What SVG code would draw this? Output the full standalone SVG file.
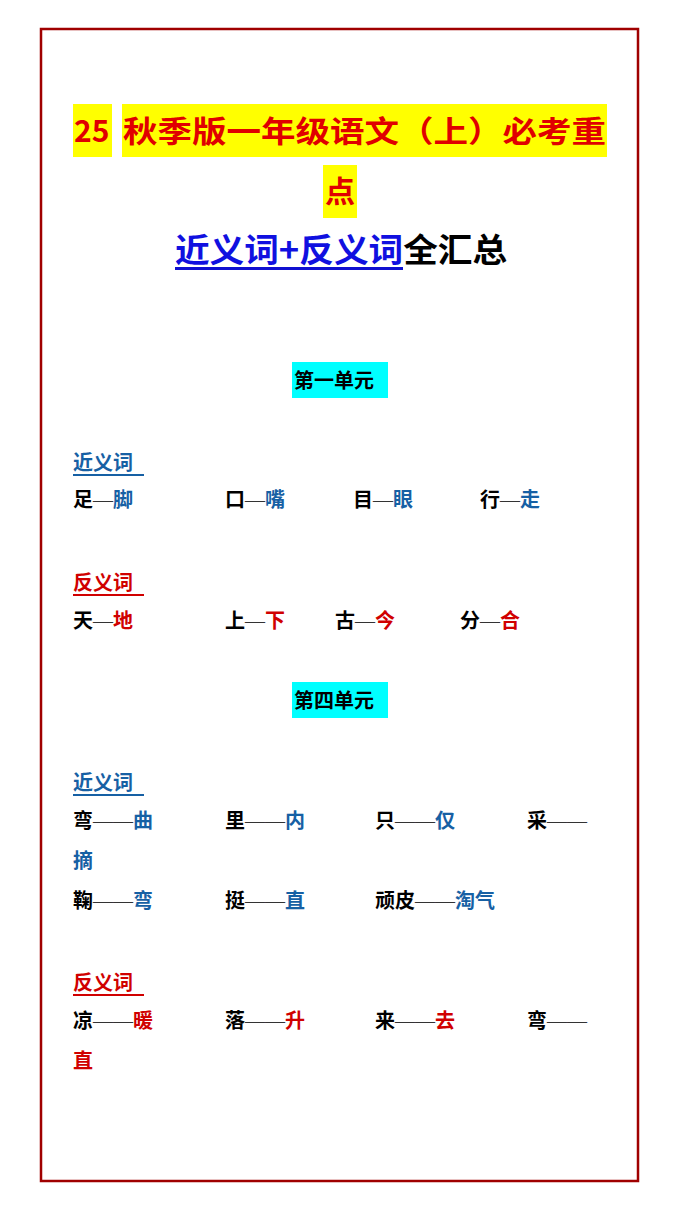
<svg xmlns="http://www.w3.org/2000/svg" width="680" height="1209" viewBox="0 0 680 1209">
<style>
text{font-family:"Noto Sans CJK SC","Liberation Serif",sans-serif;font-weight:bold}
.t{font-size:30px;fill:#e00000}
.h{font-size:33px}
.b{font-size:20px;fill:#000}
.bl{fill:#1660a4}
.rd{fill:#d00000}
.d{font-weight:normal;font-family:"Liberation Serif",serif;fill:#333}
</style>
<rect x="0" y="0" width="680" height="1209" fill="#fff"/>
<rect x="41" y="29" width="597" height="1152" fill="none" stroke="#a00000" stroke-width="2.5"/>
<g id="title">
<rect x="73" y="104" width="39" height="53" fill="#ffff00"/>
<rect x="122" y="104" width="485" height="53" fill="#ffff00"/>
<rect x="323" y="165" width="34" height="53" fill="#ffff00"/>
<text class="t" x="74" y="142" font-family="Liberation Serif">25</text>
<text class="t" x="123" y="142" textLength="483" lengthAdjust="spacingAndGlyphs">秋季版一年级语文（上）必考重</text>
<text class="t" x="325" y="202">点</text>
<text class="h" x="175" y="262" fill="#1010e0" textLength="332" lengthAdjust="spacingAndGlyphs">近义词+反义词<tspan fill="#000">全汇总</tspan></text>
<rect x="175" y="267" width="228" height="3" fill="#1010d0"/>
</g>
<g id="unit1">
<rect x="292" y="362" width="96" height="36" fill="#00ffff"/>
<text class="b" x="294" y="388">第一单元</text>
<text class="b bl" x="73" y="470">近义词</text>
<rect x="73" y="474" width="71" height="2" fill="#1660a4"/>
<text class="b" y="507"><tspan x="73">足<tspan class="d">—</tspan><tspan class="bl">脚</tspan></tspan><tspan x="225">口<tspan class="d">—</tspan><tspan class="bl">嘴</tspan></tspan><tspan x="353">目<tspan class="d">—</tspan><tspan class="bl">眼</tspan></tspan><tspan x="480">行<tspan class="d">—</tspan><tspan class="bl">走</tspan></tspan></text>
<text class="b rd" x="73" y="590">反义词</text>
<rect x="73" y="594" width="71" height="2" fill="#d00000"/>
<text class="b" y="628"><tspan x="73">天<tspan class="d">—</tspan><tspan class="rd">地</tspan></tspan><tspan x="225">上<tspan class="d">—</tspan><tspan class="rd">下</tspan></tspan><tspan x="335">古<tspan class="d">—</tspan><tspan class="rd">今</tspan></tspan><tspan x="460">分<tspan class="d">—</tspan><tspan class="rd">合</tspan></tspan></text>
</g>
<g id="unit4">
<rect x="292" y="682" width="96" height="36" fill="#00ffff"/>
<text class="b" x="294" y="708">第四单元</text>
<text class="b bl" x="73" y="790">近义词</text>
<rect x="73" y="794" width="71" height="2" fill="#1660a4"/>
<text class="b" y="828"><tspan x="73">弯<tspan class="d">——</tspan><tspan class="bl">曲</tspan></tspan><tspan x="225">里<tspan class="d">——</tspan><tspan class="bl">内</tspan></tspan><tspan x="375">只<tspan class="d">——</tspan><tspan class="bl">仅</tspan></tspan><tspan x="527">采<tspan class="d">——</tspan></tspan></text>
<text class="b bl" x="73" y="868">摘</text>
<text class="b" y="908"><tspan x="73">鞠<tspan class="d">——</tspan><tspan class="bl">弯</tspan></tspan><tspan x="225">挺<tspan class="d">——</tspan><tspan class="bl">直</tspan></tspan><tspan x="375">顽皮<tspan class="d">——</tspan><tspan class="bl">淘气</tspan></tspan></text>
<text class="b rd" x="73" y="990">反义词</text>
<rect x="73" y="994" width="71" height="2" fill="#d00000"/>
<text class="b" y="1028"><tspan x="73">凉<tspan class="d">——</tspan><tspan class="rd">暖</tspan></tspan><tspan x="225">落<tspan class="d">——</tspan><tspan class="rd">升</tspan></tspan><tspan x="375">来<tspan class="d">——</tspan><tspan class="rd">去</tspan></tspan><tspan x="527">弯<tspan class="d">——</tspan></tspan></text>
<text class="b rd" x="73" y="1068">直</text>
</g>
</svg>
